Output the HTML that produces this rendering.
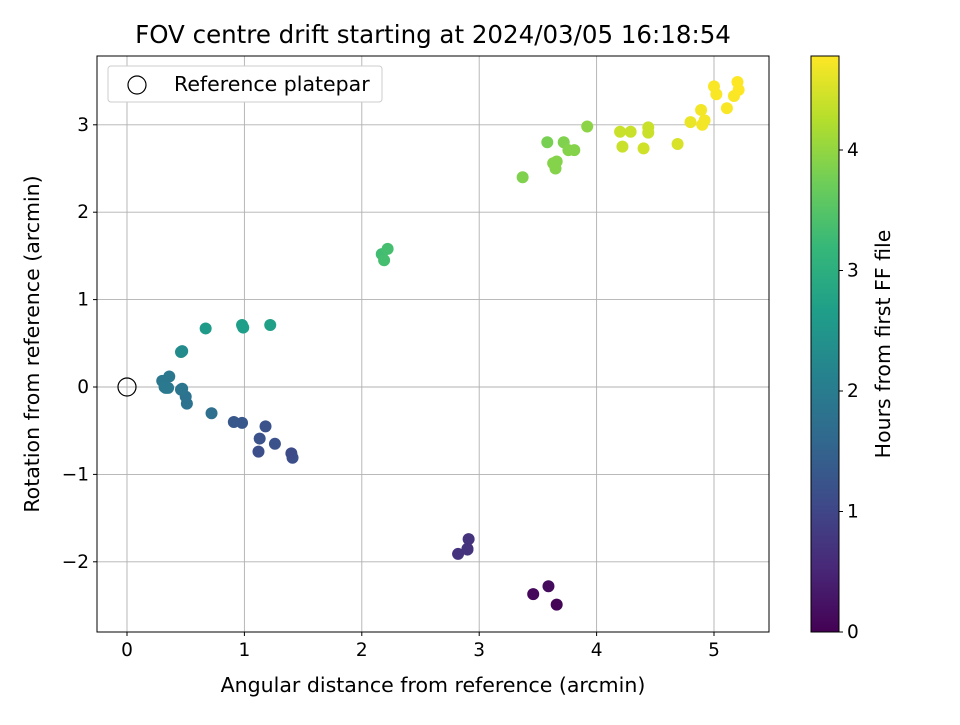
<!DOCTYPE html>
<html><head><meta charset="utf-8"><style>
body{margin:0;background:#fff;font-family:"Liberation Sans","DejaVu Sans",sans-serif}
svg text{font-family:"DejaVu Sans","Liberation Sans",sans-serif;fill:#000}
</style></head><body>
<svg id="c" width="960" height="720"></svg>
<script>
const xs=[3.46,3.59,3.66,2.82,2.90,2.91,2.90,1.41,1.40,1.26,1.12,1.13,1.18,0.98,0.91,0.72,0.51,0.50,0.46,0.47,0.36,0.33,0.30,0.32,0.35,0.47,0.46,0.67,0.98,0.99,1.22,2.17,2.19,2.22,3.37,3.58,3.63,3.65,3.66,3.72,3.76,3.81,3.92,4.20,4.22,4.29,4.40,4.44,4.44,4.69,4.80,4.89,4.90,4.92,5.00,5.02,5.11,5.17,5.20,5.21];
const ys=[-2.37,-2.28,-2.49,-1.91,-1.85,-1.74,-1.86,-0.81,-0.76,-0.65,-0.74,-0.59,-0.45,-0.41,-0.40,-0.30,-0.19,-0.11,-0.03,-0.02,0.12,-0.01,0.07,0.00,-0.01,0.41,0.40,0.67,0.71,0.68,0.71,1.52,1.45,1.58,2.40,2.80,2.56,2.50,2.58,2.80,2.71,2.71,2.98,2.92,2.75,2.92,2.73,2.97,2.91,2.78,3.03,3.17,3.00,3.05,3.44,3.35,3.19,3.33,3.49,3.40];
const hours=[0.1,0.15,0.05,0.7,0.65,0.7,0.7,1.15,1.1,1.2,1.15,1.2,1.2,1.3,1.3,1.75,1.8,1.8,1.85,1.85,1.9,1.95,1.9,1.95,1.95,2.3,2.3,2.6,2.65,2.65,2.7,3.3,3.35,3.35,3.85,3.8,3.9,3.9,3.9,3.85,3.9,3.9,3.95,4.4,4.4,4.4,4.45,4.4,4.4,4.5,4.65,4.7,4.7,4.7,4.75,4.75,4.75,4.75,4.78,4.78];
const xTicks=[0,1,2,3,4,5], yTicks=[-2,-1,0,1,2,3], cTicks=[0,1,2,3,4];
const X0=97,X1=769,Y0=56,Y1=632;
const sx=v=>127+v*117.4, sy=v=>387-v*87.4;
const hMax=4.78, sc=v=>632-v/hMax*576;
const vir=[[68,1,84],[72,40,120],[62,74,137],[49,104,142],[38,130,142],[31,158,137],[53,183,121],[109,205,89],[180,222,44],[253,231,37]];
function col(t){t=Math.max(0,Math.min(1,t))*9;const i=Math.min(8,Math.floor(t)),f=t-i;const a=vir[i],b=vir[i+1];return `rgb(${a.map((v,k)=>Math.round(v+(b[k]-v)*f)).join(',')})`;}
const s=document.getElementById('c');const NS='http://www.w3.org/2000/svg';
function el(t,a,txt){const e=document.createElementNS(NS,t);for(const k in a)e.setAttribute(k,a[k]);if(txt!==undefined)e.textContent=txt;s.appendChild(e);return e;}
let e;
e=el('text',{x:433,y:43,'font-size':24.5,'text-anchor':'middle'},'FOV centre drift starting at 2024/03/05 16:18:54');

xTicks.forEach(v=>{const x=sx(v);
 e=el('line',{x1:x,x2:x,y1:Y0,y2:Y1,stroke:'#b0b0b0','stroke-width':0.9});
 el('line',{x1:x,x2:x,y1:Y1,y2:Y1+4,stroke:'#000'});
 e=el('text',{x:x,y:Y1+24,'font-size':18.5,'text-anchor':'middle'},String(v));});
yTicks.forEach(v=>{const y=sy(v);
 e=el('line',{x1:X0,x2:X1,y1:y,y2:y,stroke:'#b0b0b0','stroke-width':0.9});
 el('line',{x1:X0-4,x2:X0,y1:y,y2:y,stroke:'#000'});
 e=el('text',{x:X0-8,y:y+6,'font-size':18.5,'text-anchor':'end'},v<0?'\u2212'+(-v):String(v));});
e=el('circle',{cx:sx(0),cy:sy(0),r:9,fill:'none',stroke:'#000','stroke-width':1.2});
xs.forEach((v,i)=>{e=el('circle',{cx:sx(v),cy:sy(ys[i]),r:6,fill:col(hours[i]/hMax)});});
e=el('rect',{x:X0,y:Y0,width:X1-X0,height:Y1-Y0,fill:'none',stroke:'#000','stroke-width':1});
e=el('text',{x:433,y:692,'font-size':20.5,'text-anchor':'middle'},'Angular distance from reference (arcmin)');
e=el('text',{x:0,y:0,'font-size':20.5,'text-anchor':'middle',transform:'translate(39,344) rotate(-90)'},'Rotation from reference (arcmin)');
e=el('rect',{x:108,y:66,width:274,height:36,rx:3,fill:'#fff',stroke:'#ccc'});
el('circle',{cx:137,cy:85,r:9,fill:'none',stroke:'#000','stroke-width':1.2});
e=el('text',{x:174,y:91,'font-size':20.5},'Reference platepar');
const g=el('defs',{});const lg=document.createElementNS(NS,'linearGradient');lg.setAttribute('id','vg');lg.setAttribute('x1',0);lg.setAttribute('y1',1);lg.setAttribute('x2',0);lg.setAttribute('y2',0);
vir.forEach((c,i)=>{const st=document.createElementNS(NS,'stop');st.setAttribute('offset',i/9);st.setAttribute('stop-color',`rgb(${c})`);lg.appendChild(st);});g.appendChild(lg);
e=el('rect',{x:811,y:Y0,width:28,height:Y1-Y0,fill:'url(#vg)',stroke:'#000','stroke-width':1});
cTicks.forEach(v=>{const y=sc(v);el('line',{x1:839,x2:843,y1:y,y2:y,stroke:'#000'});
 e=el('text',{x:847,y:y+6,'font-size':18.5},String(v));});
e=el('text',{x:0,y:0,'font-size':20.5,'text-anchor':'middle',transform:'translate(890,344) rotate(-90)'},'Hours from first FF file');
</script>
</body></html>
